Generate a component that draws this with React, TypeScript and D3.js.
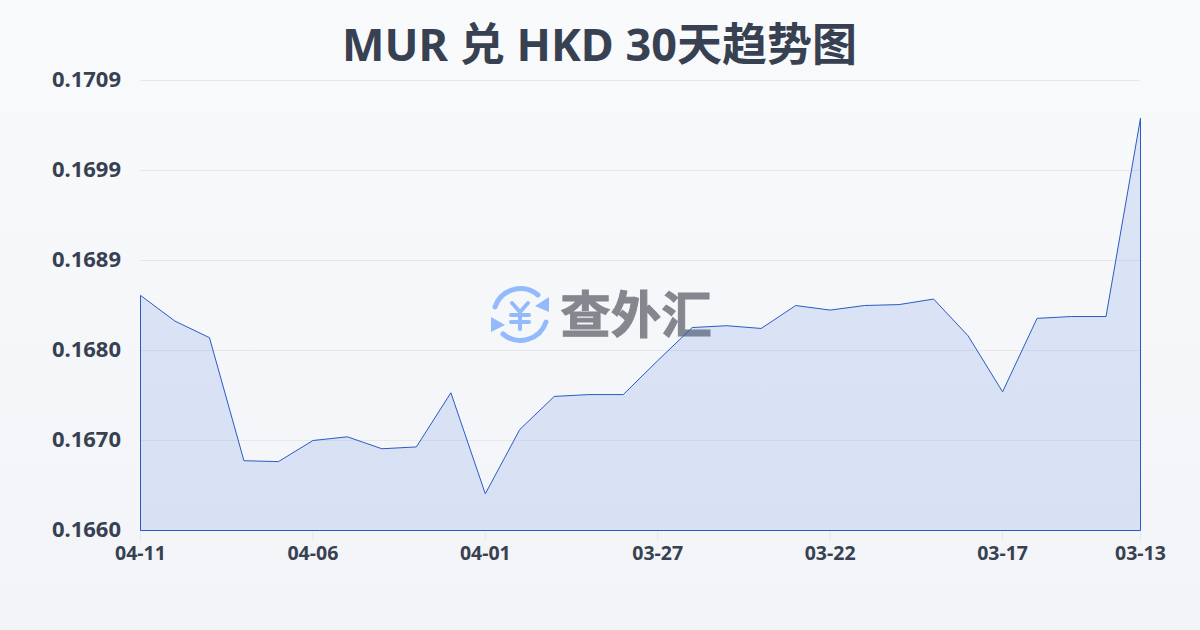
import React from "react";
import * as d3 from "d3";

const dates = ["04-11","04-10","04-09","04-08","04-07","04-06","04-05","04-04","04-03","04-02","04-01","03-31","03-30","03-29","03-28","03-27","03-26","03-25","03-24","03-23","03-22","03-21","03-20","03-19","03-18","03-17","03-16","03-15","03-14","03-13"];
const rates = [0.16856,0.16828,0.16810,0.16676,0.16675,0.16698,0.16702,0.16689,0.16691,0.16750,0.16640,0.16710,0.16746,0.16748,0.16748,0.16785,0.16821,0.16823,0.16820,0.16845,0.16840,0.16845,0.16846,0.16852,0.16812,0.16751,0.16831,0.16833,0.16833,0.17049];
const yTicks = [0.1660,0.16698,0.16796,0.16894,0.16992,0.1709];
const yLabels = ["0.1660","0.1670","0.1680","0.1689","0.1699","0.1709"];
const xLabelIdx = [0,5,10,15,20,25,29];
const FONT = "'Noto Sans','Noto Sans CJK SC',sans-serif";

export default function App() {
  const x = d3.scaleLinear().domain([0, dates.length - 1]).range([140.5, 1140.5]);
  const y = d3.scaleLinear().domain([0.166, 0.1709]).range([530.5, 80.5]);
  const line = d3.line<number>().x((_, i) => x(i)).y(d => y(d));
  const area = d3.area<number>().x((_, i) => x(i)).y0(y(0.166)).y1(d => y(d));
  return (
    <svg width={1200} height={630} style={{ position: "absolute", left: 0, top: 0 }} fontFamily={FONT}>
      <defs>
        <linearGradient id="bg" x1="0" y1="0" x2="0" y2="1">
          <stop offset="0" stopColor="#f9fafc" />
          <stop offset="1" stopColor="#f3f4f7" />
        </linearGradient>
      </defs>
      <rect width={1200} height={630} fill="url(#bg)" />
      <text x={599.5} y={61} textAnchor="middle" fontSize={45} fontWeight={700} fill="#374151">MUR 兑 HKD 30天趋势图</text>
      {yTicks.map((t, i) => (
        <g key={i}>
          <line x1={140} x2={1140} y1={y(t)} y2={y(t)} stroke="#e5e7eb" strokeWidth={1} />
          <text x={121} y={y(t)+6.5} textAnchor="end" fontSize={22} fontWeight={700} fill="#374151">{yLabels[i]}</text>
        </g>
      ))}
      {xLabelIdx.map(i => (
        <g key={i}>
          <line x1={x(i)} x2={x(i)} y1={531} y2={541} stroke="#e5e7eb" />
          <text x={x(i)} y={560} textAnchor="middle" fontSize={19.5} fontWeight={700} fill="#374151">{dates[i]}</text>
        </g>
      ))}
      <g>
        <g fill="none" stroke="#93bbfb" strokeWidth={5} strokeLinecap="round">
          <path d="M495 307 A27 27 0 0 1 538 295" />
          <path d="M546 322 A27 27 0 0 1 503 334" />
          <path d="M512 303 L520 312 L528 303 M520 312 L520 329 M511 315 L529 315 M511 322 L529 322" strokeWidth={4} />
        </g>
        <path d="M549 297 L549 312 L535 306 Z M491 317 L491 332 L505 325 Z" fill="#93bbfb" />
        <text x={636} y={333} textAnchor="middle" fontSize={50.5} fontWeight={700} fill="#84878e" stroke="#84878e" strokeWidth={1}>查外汇</text>
      </g>
      <path d={area(rates) ?? ""} fill="#4a7ce0" fillOpacity={0.16} />
      <path d={(line(rates) ?? "") + `L${x(29)},${y(0.166)}L${x(0)},${y(0.166)}Z`} fill="none" stroke="#2a5bc4" strokeWidth={1} />
    </svg>
  );
}
